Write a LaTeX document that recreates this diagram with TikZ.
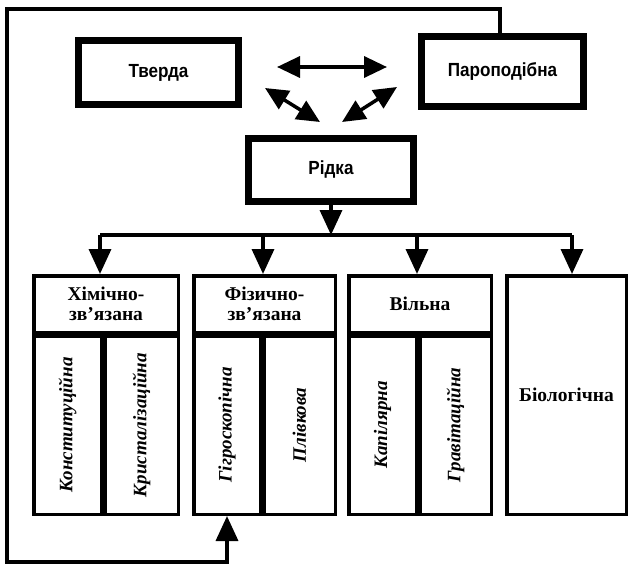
\documentclass[tikz,border=0pt]{standalone}
\usepackage{fontspec}
\setmainfont{Liberation Serif}
\newfontfamily\topsans[FakeStretch=0.9]{Liberation Sans}
\usetikzlibrary{arrows.meta}
\begin{document}
\begin{tikzpicture}[x=1pt,y=-1pt,
  >={Triangle[length=25pt,width=22pt]},
  heavy/.style={draw, line width=7pt, fill=white, inner sep=0pt,
    font=\topsans\bfseries\fontsize{19}{22}\selectfont},
  cell/.style={draw, line width=3.5pt, inner sep=0pt},
  head/.style={cell, align=center, font=\bfseries\fontsize{19.5}{20}\selectfont},
  rot/.style={rotate=90, inner sep=0pt, font=\bfseries\itshape\fontsize{19}{22}\selectfont},
  link/.style={line width=3.5pt},
  dbl/.style={line width=3.5pt, {Triangle[length=23pt,width=21pt]}-{Triangle[length=23pt,width=21pt]}}
]
\useasboundingbox (0,0) rectangle (630,565);

% top state boxes
\node[heavy, minimum width=160pt, minimum height=64pt] (tv) at (158.5,72.5) {Тверда};
\node[heavy, minimum width=162pt, minimum height=70pt] (par) at (502.5,71.5) {Пароподібна};
\node[heavy, minimum width=165pt, minimum height=63pt] (rid) at (331,170) {Рідка};

% double arrows between states
\coordinate (ha) at (277,67);
\coordinate (hb) at (387,67);
\coordinate (la) at (265,88);
\coordinate (lb) at (320,122);
\coordinate (ra) at (397,87);
\coordinate (rb) at (342,122);
\draw[dbl] (ha) -- (hb);
\draw[dbl] (la) -- (lb);
\draw[dbl] (ra) -- (rb);

% bottom boxes
\node[head, minimum width=144.5pt, minimum height=56.5pt] (b1h) at (106,304) {Хімічно-\\зв’язана};
\node[cell, minimum width=67.5pt, minimum height=178.5pt] (b1c1) at (67.5,425) {};
\node[cell, minimum width=73.5pt, minimum height=178.5pt] (b1c2) at (141.5,425) {};
\node[head, minimum width=141.5pt, minimum height=56.5pt] (b2h) at (264.5,304) {Фізично-\\зв’язана};
\node[cell, minimum width=66.5pt, minimum height=178.5pt] (b2c1) at (227,425) {};
\node[cell, minimum width=71.5pt, minimum height=178.5pt] (b2c2) at (299.5,425) {};
\node[head, minimum width=142.5pt, minimum height=56.5pt] (b3h) at (420,304) {Вільна};
\node[cell, minimum width=67.5pt, minimum height=178.5pt] (b3c1) at (382.5,425) {};
\node[cell, minimum width=71.5pt, minimum height=178.5pt] (b3c2) at (455.5,425) {};
\node[head, minimum width=119.5pt, minimum height=238.5pt] (b4) at (566.5,395) {Біологічна};

\node[rot] (t11) at (b1c1) {Конституційна};
\node[rot] (t12) at (b1c2) {Кристалізаційна};
\node[rot] (t21) at (b2c1) {Гігроскопічна};
\node[rot] (t22) at (b2c2) {Плівкова};
\node[rot] (t31) at (b3c1) {Капілярна};
\node[rot] (t32) at (b3c2) {Гравітаційна};

% distribution bus
\coordinate (bus1) at (100,235);
\coordinate (bus2) at (263,235);
\coordinate (bus3) at (417,235);
\coordinate (bus4) at (572,235);
\draw[link] (bus1) -- (bus4);
\draw[link,->] (rid.south) -- (rid.south |- bus1);
\draw[link,->] (bus1) -- (bus1 |- b1h.north);
\draw[link,->] (bus2) -- (bus2 |- b2h.north);
\draw[link,->] (bus3) -- (bus3 |- b3h.north);
\draw[link,->] (bus4) -- (bus4 |- b4.north);

% feedback loop
\coordinate (fbA) at (7,9);
\coordinate (fbB) at (7,562);
\draw[link,->] ([xshift=-2.5pt]par.north) |- (fbA) -- (fbB) -| (b2c1.south);
\end{tikzpicture}
\end{document}
